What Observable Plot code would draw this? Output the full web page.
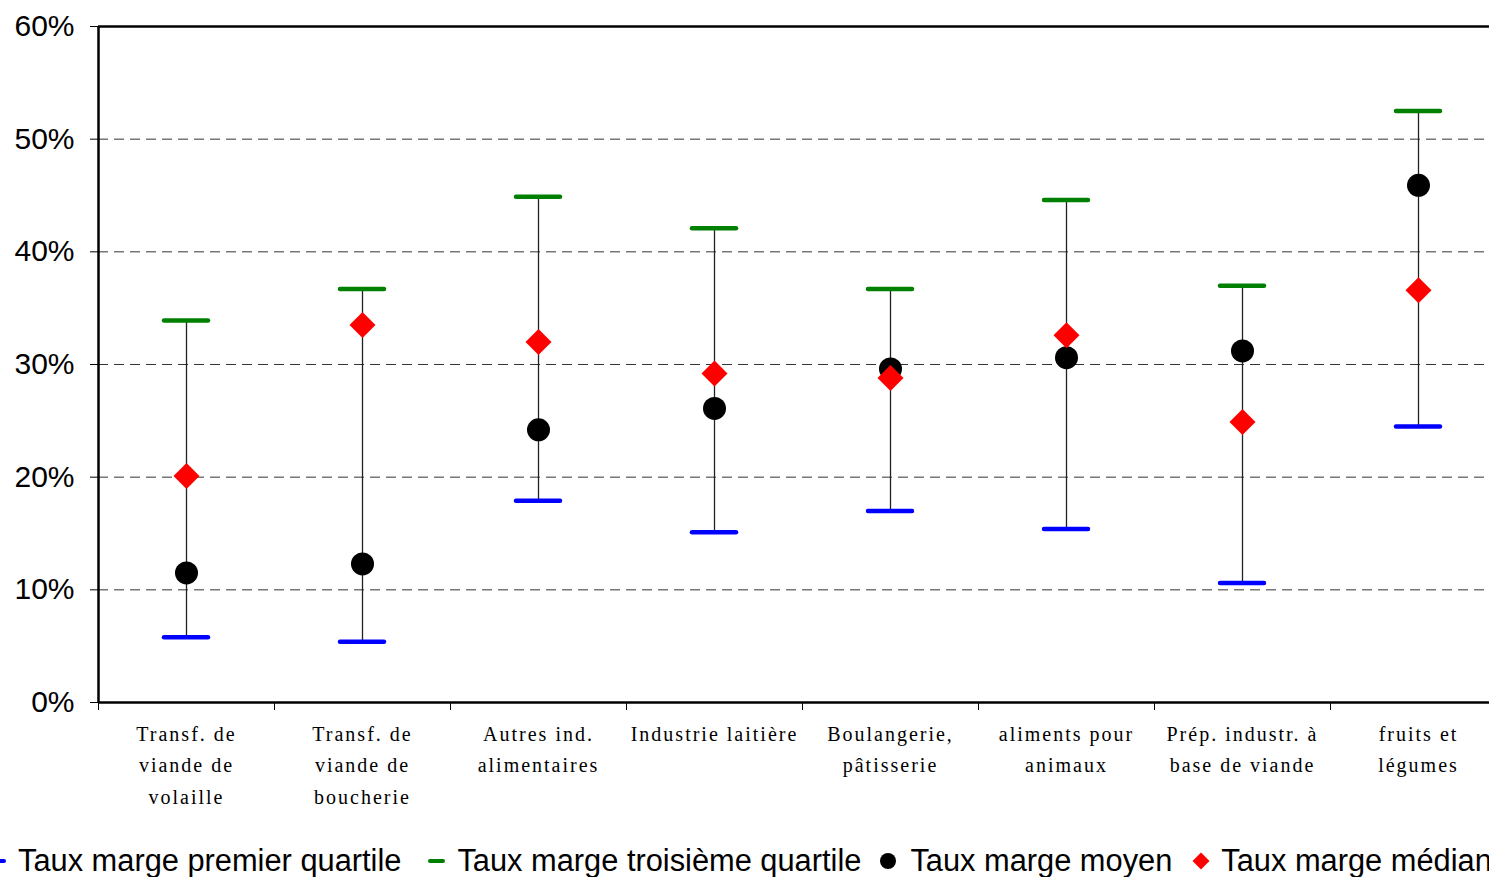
<!DOCTYPE html>
<html>
<head>
<meta charset="utf-8">
<script src="https://cdn.jsdelivr.net/npm/d3@7"></script>
<script src="https://cdn.jsdelivr.net/npm/@observablehq/plot@0.6"></script>
<style>
  html, body { margin: 0; padding: 0; background: #fff; overflow: hidden; width: 1489px; height: 877px; }
  #wrap { position: relative; width: 1489px; height: 877px; overflow: hidden; }
  #legend { position: absolute; left: -11px; top: 845px; white-space: nowrap; font-family: "Liberation Sans", Arial, sans-serif; font-size: 30.8px; line-height: 31px; color: #000; display: flex; align-items: center; }
  #legend .item { display: inline-flex; align-items: center; }
  #legend .sw { display: inline-block; }
  #legend .dash { width: 17px; height: 4px; border-radius: 2px; margin-right: 12px; }
  #legend .dot { width: 16px; height: 16px; border-radius: 50%; background: #000; margin-right: 14px; }
  #legend .dia { width: 12px; height: 12px; background: #f00; transform: rotate(45deg); margin-left: 3px; margin-right: 14px; }
</style>
</head>
<body>
<div id="wrap">
  <div id="chart"></div>
  <div id="legend"></div>
</div>
<script>
// ---- Data ----
const categories = [
  "Transf. de\nviande de\nvolaille",
  "Transf. de\nviande de\nboucherie",
  "Autres ind.\nalimentaires",
  "Industrie laitière",
  "Boulangerie,\npâtisserie",
  "aliments pour\nanimaux",
  "Prép. industr. à\nbase de viande",
  "fruits et\nlégumes"
];
const premierQuartile = [5.8, 5.4, 17.9, 15.1, 17.0, 15.4, 10.6, 24.5];
const troisiemeQuartile = [33.9, 36.7, 44.9, 42.1, 36.7, 44.6, 37.0, 52.5];
const moyen = [11.5, 12.3, 24.2, 26.1, 29.6, 30.6, 31.2, 45.9];
const median = [20.1, 33.5, 32.0, 29.2, 28.8, 32.6, 24.9, 36.6];
const yTicks = [0, 10, 20, 30, 40, 50, 60];
const gridTicks = [10, 20, 30, 40, 50];
const seriesNames = ["Taux marge premier quartile", "Taux marge troisième quartile", "Taux marge moyen", "Taux marge médian"];

// ---- Table ----
const rows = categories.map((c, i) => ({
  pos: i + 0.5,
  label: c,
  q1: premierQuartile[i],
  q3: troisiemeQuartile[i],
  moyen: moyen[i],
  median: median[i]
}));
const boundaries = d3.range(categories.length + 1);
const halfTick = 0.125;

const chart = Plot.plot({
  width: 1489,
  height: 830,
  marginLeft: 98,
  marginRight: 0,
  marginTop: 26,
  marginBottom: 128,
  style: { fontFamily: "'Liberation Sans', Arial, sans-serif", background: "white" },
  x: { domain: [0, categories.length], range: [98, 1506] },
  y: { domain: [0, 60] },
  marks: [
    Plot.ruleY(gridTicks, { stroke: "#333", strokeWidth: 1, strokeDasharray: "10,6" }),
    Plot.axisY(yTicks, { tickFormat: d => d + "%", tickSize: 8, tickPadding: 16, fontSize: 30, label: null, stroke: "#000" }),
    Plot.axisX(boundaries, { tickSize: 8, tickFormat: () => "", label: null, stroke: "#000" }),
    Plot.ruleY([60], { stroke: "#000", strokeWidth: 2.5 }),
    Plot.ruleY([0], { stroke: "#000", strokeWidth: 2.5 }),
    Plot.ruleX([0], { stroke: "#000", strokeWidth: 2.5 }),
    Plot.text(rows, {
      x: "pos", y: 0, text: "label", dy: 16, lineAnchor: "top",
      fontFamily: "'Liberation Serif', 'Times New Roman', serif", fontSize: 20, lineHeight: 1.575, fill: "#000"
    }),
    Plot.ruleX(rows, { x: "pos", y1: "q1", y2: "q3", stroke: "#222", strokeWidth: 1.3 }),
    Plot.dot(rows, { x: "pos", y: "moyen", r: 11.5, fill: "#000", stroke: null }),
    Plot.dot(rows, { x: "pos", y: "median", r: 11.7, symbol: "diamond2", fill: "#ff0000", stroke: null }),
    Plot.ruleY(rows, { y: "q3", x1: d => d.pos - halfTick, x2: d => d.pos + halfTick, stroke: "#008000", strokeWidth: 4.5, strokeLinecap: "round" }),
    Plot.ruleY(rows, { y: "q1", x1: d => d.pos - halfTick, x2: d => d.pos + halfTick, stroke: "#0000ff", strokeWidth: 4.5, strokeLinecap: "round" })
  ]
});
d3.select(chart).selectAll("g[aria-label='text'] text").style("letter-spacing", "2px");
document.getElementById("chart").appendChild(chart);

// ---- Legend ----
const swatches = [
  '<span class="sw dash" style="background:#0000ff"></span>',
  '<span class="sw dash" style="background:#008000"></span>',
  '<span class="sw dot"></span>',
  '<span class="sw dia"></span>'
];
const gaps = [27, 19, 20, 0];
document.getElementById("legend").innerHTML = seriesNames.map((n, i) =>
  `<span class="item" style="margin-right:${gaps[i]}px">${swatches[i]}<span>${n}</span></span>`).join("");
</script>
</body>
</html>
